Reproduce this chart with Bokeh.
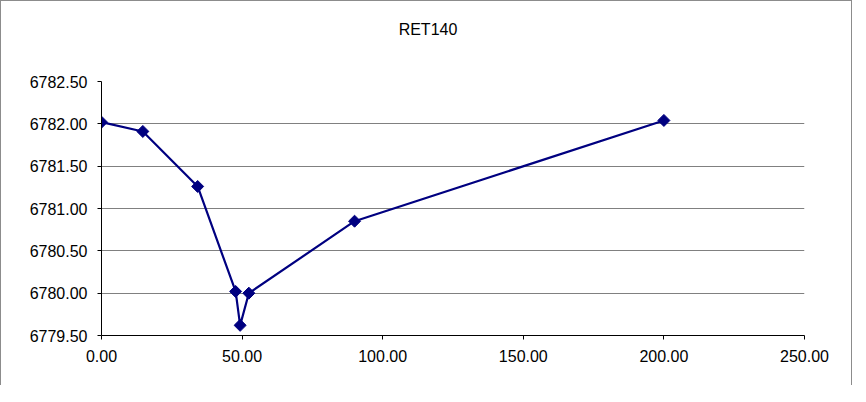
import math
from bokeh.plotting import figure
from bokeh.models import FixedTicker, NumeralTickFormatter, Range1d, Div
from bokeh.layouts import column
from bokeh.embed import file_html
from bokeh.resources import INLINE

# Data
distance = [0.0, 14.7, 34.2, 47.7, 49.3, 52.4, 90.0, 200.0]
elevation = [6782.02, 6781.91, 6781.26, 6780.02, 6779.62, 6780.00, 6780.85, 6782.04]

x_ticks = [0, 50, 100, 150, 200, 250]
y_ticks = [6779.5, 6780.0, 6780.5, 6781.0, 6781.5, 6782.0, 6782.5]
title_text = "RET140"

FONT = "Liberation Sans"

p = figure(width=850, height=339, output_backend="svg", toolbar_location=None,
           x_range=Range1d(0, 250), y_range=Range1d(6779.5, 6782.5),
           min_border_left=100, min_border_right=47, min_border_top=35, min_border_bottom=50)
p.outline_line_color = None
p.background_fill_color = "white"
p.border_fill_color = "white"

title_div = Div(
    text=f'<div style="display:block;width:846px;padding-top:18px;padding-left:4px;'
         f'text-align:center;font-family:\'{FONT}\';font-size:16px;color:black;">'
         f'{title_text}</div>',
    width=850, height=45, margin=0,
    styles={"text-align": "center", "width": "850px"})

p.xgrid.visible = False
p.ygrid.ticker = FixedTicker(ticks=y_ticks)
p.ygrid.grid_line_color = "#808080"
p.ygrid.grid_line_width = 1

for ax in (p.xaxis[0], p.yaxis[0]):
    ax.axis_line_color = "black"
    ax.axis_line_width = 1
    ax.major_tick_line_color = "black"
    ax.major_tick_in = 0
    ax.major_tick_out = 4
    ax.minor_tick_line_color = None
    ax.major_label_text_font = FONT
    ax.major_label_text_font_size = "16px"
    ax.major_label_text_color = "black"
    ax.formatter = NumeralTickFormatter(format="0.00")

p.xaxis[0].ticker = FixedTicker(ticks=x_ticks)
p.yaxis[0].ticker = FixedTicker(ticks=y_ticks)
p.xaxis[0].major_label_standoff = 10
p.yaxis[0].major_label_standoff = 10

p.line(distance, elevation, line_color="#000080", line_width=2.2)
p.scatter(distance, elevation, marker="square", angle=math.pi / 4, size=8.5,
          fill_color="#000080", line_color="#000080")

layout = column(title_div, p, spacing=0)
layout.styles = {"border-left": "1px solid #8c8c8c", "border-top": "1px solid #8c8c8c",
                 "border-right": "1px solid #8c8c8c", "background": "white"}

open("out.html", "w").write(file_html(layout, INLINE))
